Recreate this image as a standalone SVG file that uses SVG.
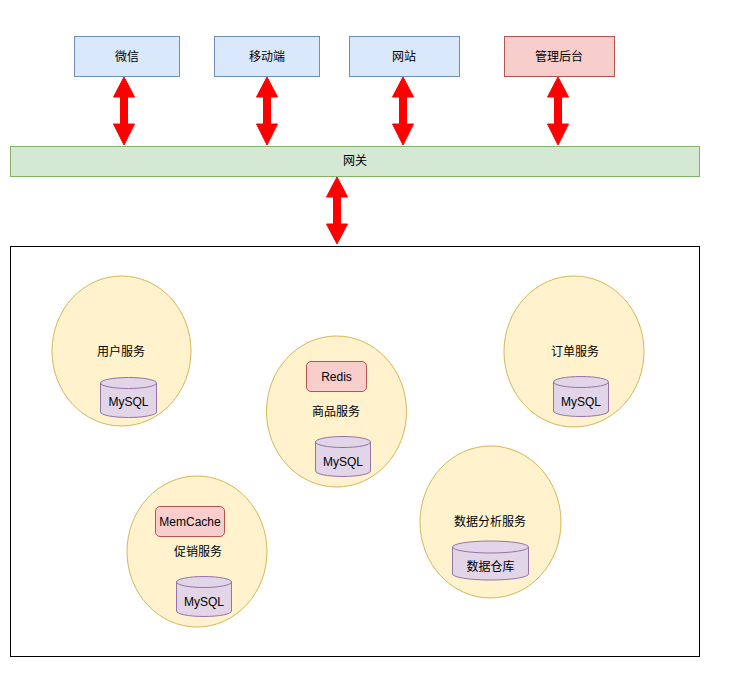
<svg xmlns="http://www.w3.org/2000/svg" width="734" height="683" viewBox="0 0 734 683">
<style>
text{font-family:"Liberation Sans","Noto Sans CJK SC",Arial,sans-serif;font-size:12px;fill:#000;text-anchor:middle;dominant-baseline:central}
.blue{fill:#dae8fc;stroke:#6c8ebf;stroke-width:1}
.red{fill:#f8cecc;stroke:#b85450;stroke-width:1}
.green{fill:#d5e8d4;stroke:#82b366;stroke-width:1}
.yellow{fill:#fff2cc;stroke:#d6b656;stroke-width:1}
.purple{fill:#e1d5e7;stroke:#9673a6;stroke-width:1}
.arrow{fill:#ff0000;stroke:#ff0000;stroke-width:1;stroke-linejoin:round}
.cont{fill:#ffffff;stroke:#000000;stroke-width:1}
</style>
<rect width="734" height="683" fill="#ffffff"/>
<g id="container"><rect class="cont" x="10.5" y="246.5" width="689" height="410"/></g>
<g id="wechat"><rect class="blue" x="74.5" y="36.5" width="105" height="40"/><text x="127" y="57">微信</text></g>
<g id="mobile"><rect class="blue" x="214.5" y="36.5" width="105" height="40"/><text x="267" y="57">移动端</text></g>
<g id="website"><rect class="blue" x="349.5" y="36.5" width="110" height="40"/><text x="404" y="57">网站</text></g>
<g id="admin"><rect class="red" x="504.5" y="36.5" width="110" height="40"/><text x="559" y="57">管理后台</text></g>
<g id="gateway"><rect class="green" x="10.5" y="146.5" width="689" height="30"/><text x="355" y="161">网关</text></g>
<g id="connectors">
<path class="arrow" d="M124,77 L134.5,97 L127.5,97 L127.5,124 L134.5,124 L124,145 L113.5,124 L120.5,124 L120.5,97 L113.5,97 Z"/>
<path class="arrow" d="M267,77 L277.5,97 L270.5,97 L270.5,124 L277.5,124 L267,145 L256.5,124 L263.5,124 L263.5,97 L256.5,97 Z"/>
<path class="arrow" d="M403,77 L413.5,97 L406.5,97 L406.5,124 L413.5,124 L403,145 L392.5,124 L399.5,124 L399.5,97 L392.5,97 Z"/>
<path class="arrow" d="M558,77 L568.5,97 L561.5,97 L561.5,124 L568.5,124 L558,145 L547.5,124 L554.5,124 L554.5,97 L547.5,97 Z"/>
<path class="arrow" d="M337,177 L347.5,197 L340.5,197 L340.5,224 L347.5,224 L337,244 L326.5,224 L333.5,224 L333.5,197 L326.5,197 Z"/>
</g>
<g id="user-service">
<ellipse class="yellow" cx="121.5" cy="351" rx="69.5" ry="75"/>
<text x="121" y="352">用户服务</text>
<path class="purple" d="M100.5,383 A28,5.5 0 0 1 156.5,383 V412 A28,5.5 0 0 1 100.5,412 Z"/>
<path class="purple" d="M100.5,383 A28,5.5 0 0 0 156.5,383" fill="none"/>
<text x="128.5" y="402">MySQL</text>
</g>
<g id="product-service">
<ellipse class="yellow" cx="336.5" cy="411.5" rx="70" ry="75.5"/>
<rect class="red" x="306.5" y="361.5" width="60" height="30" rx="4.5"/>
<text x="336.5" y="377">Redis</text>
<text x="336" y="412">商品服务</text>
<path class="purple" d="M315.5,442 A27.5,5.5 0 0 1 370.5,442 V471 A27.5,5.5 0 0 1 315.5,471 Z"/>
<path class="purple" d="M315.5,442 A27.5,5.5 0 0 0 370.5,442" fill="none"/>
<text x="343" y="462">MySQL</text>
</g>
<g id="promo-service">
<ellipse class="yellow" cx="197" cy="551.5" rx="70" ry="75.5"/>
<rect class="red" x="155.5" y="506.5" width="69" height="30" rx="4.5"/>
<text x="190" y="522">MemCache</text>
<text x="198" y="552">促销服务</text>
<path class="purple" d="M176.5,582 A27.5,5.5 0 0 1 231.5,582 V611 A27.5,5.5 0 0 1 176.5,611 Z"/>
<path class="purple" d="M176.5,582 A27.5,5.5 0 0 0 231.5,582" fill="none"/>
<text x="204" y="602">MySQL</text>
</g>
<g id="analytics-service">
<ellipse class="yellow" cx="490.5" cy="522" rx="70.5" ry="76"/>
<text x="490" y="522">数据分析服务</text>
<path class="purple" d="M452.5,547 A38,6 0 0 1 528.5,547 V574 A38,6 0 0 1 452.5,574 Z"/>
<path class="purple" d="M452.5,547 A38,6 0 0 0 528.5,547" fill="none"/>
<text x="490.5" y="567">数据仓库</text>
</g>
<g id="order-service">
<ellipse class="yellow" cx="574" cy="351.5" rx="70" ry="75.5"/>
<text x="575" y="352">订单服务</text>
<path class="purple" d="M553.5,382 A27.5,5.5 0 0 1 608.5,382 V411 A27.5,5.5 0 0 1 553.5,411 Z"/>
<path class="purple" d="M553.5,382 A27.5,5.5 0 0 0 608.5,382" fill="none"/>
<text x="581" y="402">MySQL</text>
</g>
</svg>
